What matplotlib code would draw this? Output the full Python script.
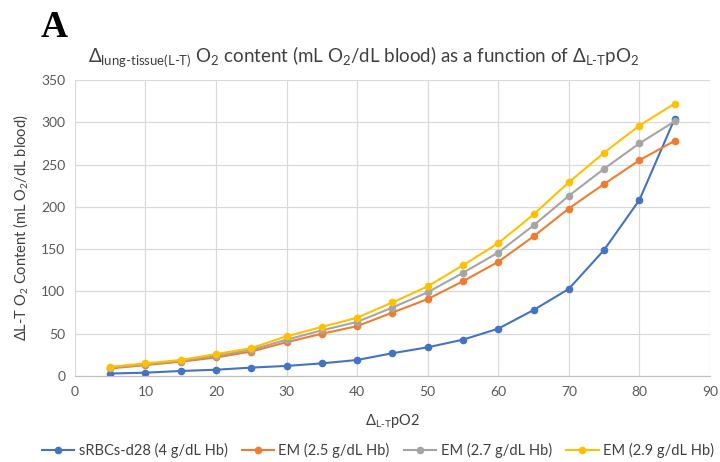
import numpy as np
import matplotlib
matplotlib.use("Agg")
import matplotlib.pyplot as plt

plt.rcParams["font.family"] = ["Lato", "DejaVu Sans"]
plt.rcParams["mathtext.fontset"] = "custom"
plt.rcParams["mathtext.rm"] = "Lato"
plt.rcParams["mathtext.it"] = "Lato:italic"

# delta pO2 (L-T) and O2 content per formulation
dpo2 = [5, 10, 15, 20, 25, 30, 35, 40, 45, 50, 55, 60, 65, 70, 75, 80, 85]
srbc_d28 = [3, 4, 6, 7.5, 10, 12, 15, 19, 27, 34, 43, 56, 78, 103, 149, 208, 304]
em_25 = [9, 13, 17, 22, 29, 40, 50, 59, 75, 91, 112, 135, 165, 198, 227, 255, 278]
em_27 = [10, 14, 18, 24, 31, 43, 54, 64, 81, 99, 122, 146, 178, 213, 245, 275, 301]
em_29 = [11, 15, 19, 26, 33, 47, 58, 69, 87, 106, 131, 157, 191, 229, 264, 296, 322]

series = [
    ("sRBCs-d28 (4 g/dL Hb)", srbc_d28, "#4472C4"),
    ("EM (2.5 g/dL Hb)", em_25, "#ED7D31"),
    ("EM (2.7 g/dL Hb)", em_27, "#A5A5A5"),
    ("EM (2.9 g/dL Hb)", em_29, "#FFC000"),
]

fig = plt.figure(figsize=(7.2, 4.62), dpi=100)
ax = fig.add_axes([0.104, 0.186, 0.882, 0.641])

for label, vals, col in series:
    ax.plot(dpo2, vals, color=col, lw=1.5, marker="o", ms=4.5, label=label)

ax.set_xlim(0, 90)
ax.set_ylim(0, 350)
ax.set_xticks(range(0, 91, 10))
ax.set_yticks(range(0, 351, 50))
ax.grid(color="#D9D9D9", lw=0.9)
ax.set_axisbelow(True)
for s in ["top", "right", "left"]:
    ax.spines[s].set_visible(False)
ax.spines["bottom"].set_color("#BFBFBF")
ax.tick_params(length=0, labelsize=10, colors="#595959", pad=7)

ax.set_xlabel(r"$\Delta_{\mathrm{L\text{-}T}}$pO2", fontsize=10.5, color="#404040", labelpad=10)
ax.set_ylabel(r"ΔL-T O$_2$ Content (mL O$_2$/dL blood)", fontsize=10.5, color="#404040", labelpad=8)

fig.text(0.505, 0.877, r"$\Delta_{\mathrm{lung\text{-}tissue(L\text{-}T)}}$ O$_2$ content (mL O$_2$/dL blood) as a function of $\Delta_{\mathrm{L\text{-}T}}$pO$_2$",
         ha="center", va="center", fontsize=13.5, color="#404040")
fig.text(0.075, 0.94, "A", fontsize=27, fontweight="bold", family="Liberation Serif",
         ha="center", va="center")

fig.legend(*ax.get_legend_handles_labels(), loc="center", bbox_to_anchor=(0.525, 0.024),
           ncol=4, frameon=False, fontsize=10.5, handlelength=2.2, handletextpad=0.3,
           columnspacing=1.0, labelcolor="#404040", borderaxespad=0, borderpad=0)

fig.savefig("out.png", dpi=100)
